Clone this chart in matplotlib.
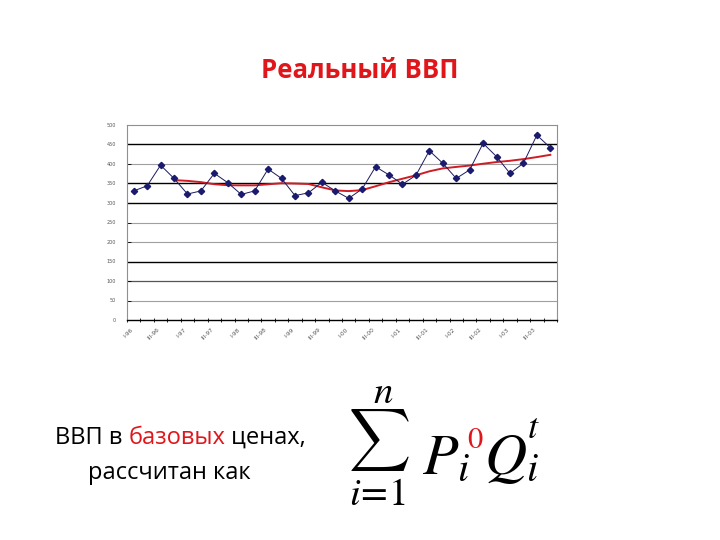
import numpy as np
import pandas as pd
import matplotlib.pyplot as plt

plt.rcParams['mathtext.fontset'] = 'stix'

# quarterly real GDP, I-96 .. IV-03
quarters = [f"{q}-{y:02d}" for y in [96, 97, 98, 99, 0, 1, 2, 3] for q in ["I", "II", "III", "IV"]]
gdp = [331, 344, 397, 363, 323, 331, 376, 352,
       322, 331, 387, 363, 319, 326, 353, 331,
       312, 336, 393, 372, 348, 371, 434, 402,
       363, 385, 453, 419, 376, 402, 474, 442]
y_ticks = list(range(0, 501, 50))
dark_grid = [150, 300, 350, 450]
mid_grid = [100]

trend = pd.Series(gdp).rolling(4).mean()

fig = plt.figure(figsize=(7.2, 5.4), dpi=100)
fig.patch.set_facecolor('white')

fig.text(0.5, 1 - 70/540, "Реальный ВВП", color='#e0161b', fontsize=18.5, fontweight='bold',
         ha='center', va='center', family='Open Sans')

ax = fig.add_axes([127/720, 1 - 320/540, 430/720, 195/540])
x = np.arange(len(gdp))
ax.set_xlim(-0.5, len(gdp) - 0.5)
ax.set_ylim(0, 500)

for v in y_ticks[1:-1]:
    if v in dark_grid:
        ax.axhline(v, color='black', lw=1.0, zorder=1)
    elif v in mid_grid:
        ax.axhline(v, color='#555555', lw=0.9, zorder=1)
    else:
        ax.axhline(v, color='#a0a0a0', lw=0.8, zorder=1)

ax.plot(x, gdp, color='#1a1a5e', lw=0.7, marker='D', markersize=3.2,
        markerfacecolor='#1a1a6e', markeredgecolor='#1a1a6e', zorder=3)
ax.plot(x, trend, color='#d01c24', lw=1.4, zorder=2)

ax.set_yticks(y_ticks)
ax.set_yticklabels([str(v) for v in y_ticks], fontsize=3.5, color='#555555')
ax.set_xticks(np.arange(len(gdp) + 1) - 0.5)
ax.set_xticklabels([])
ax.set_xticks(x[::2], minor=True)
ax.set_xticklabels(quarters[::2], minor=True, rotation=45, ha='right',
                   fontsize=4.2, color='#555555')
ax.tick_params(axis='x', which='minor', length=0, pad=5)
ax.tick_params(axis='x', which='major', length=3, width=0.6, direction='inout')
ax.tick_params(axis='y', length=3, width=0.6, direction='in', pad=8)
for side in ['top', 'right', 'left']:
    ax.spines[side].set_color('#909090')
    ax.spines[side].set_linewidth(0.8)
ax.spines['bottom'].set_color('black')
ax.spines['bottom'].set_linewidth(1.0)

# bottom caption
fs = 17
t1 = fig.text(55/720, 1 - 438/540, "ВВП в ", fontsize=fs, va='center', ha='left', family='Open Sans')
fig.canvas.draw()
r = fig.canvas.get_renderer()
bb = t1.get_window_extent(r)
t2 = fig.text(bb.x1/720, 1 - 438/540, "базовых", fontsize=fs, va='center', ha='left',
              color='#e0161b', family='Open Sans')
bb2 = t2.get_window_extent(r)
fig.text(bb2.x1/720, 1 - 438/540, " ценах,", fontsize=fs, va='center', ha='left', family='Open Sans')
fig.text(88/720, 1 - 473/540, "рассчитан как", fontsize=fs, va='center', ha='left', family='Open Sans')

# formula
def px(xp, yp):
    return xp / 720, 1 - yp / 540

fig.text(*px(379, 440), r"$\sum$", fontsize=31, ha='center', va='center', math_fontfamily='cm')
fig.text(*px(383, 392), r"$n$", fontsize=28, ha='center', va='center')
fig.text(*px(377, 494), r"$i\!=\!1$", fontsize=28, ha='center', va='center')
fig.text(*px(422, 474), r"$P_i$", fontsize=42, ha='left', va='baseline')
fig.text(*px(467, 448), r"$0$", fontsize=22, ha='left', va='baseline', color='#e0161b')
fig.text(*px(484, 474), r"$Q_i$", fontsize=42, ha='left', va='baseline')
fig.text(*px(527, 438), r"$t$", fontsize=26, ha='left', va='baseline')

fig.savefig("out.png", dpi=100)
